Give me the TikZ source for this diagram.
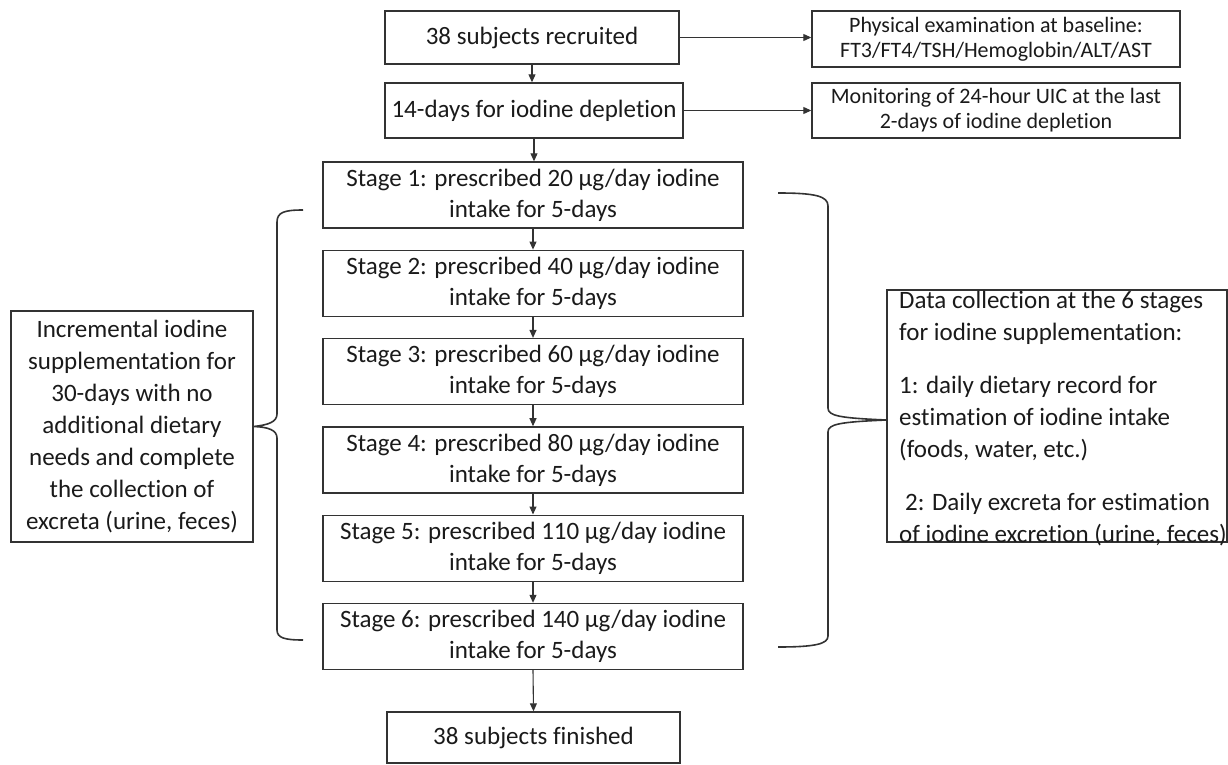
\documentclass[tikz,border=0pt]{standalone}
\usepackage{fontspec}
\setmainfont{Carlito}[RawFeature={-liga;-clig;-calt;-dlig}]
\usetikzlibrary{arrows.meta}
\definecolor{ln}{HTML}{333333}
\definecolor{tx}{HTML}{1A1A1A}
\tikzset{
  box/.style={draw=ln, line width=1.4pt, rectangle, inner sep=0pt, align=center, text=tx,
    font=\fontsize{25pt}{31pt}\selectfont},
  smallbox/.style={box, font=\fontsize{22pt}{25pt}\selectfont},
  conn/.style={draw=ln, line width=1.1pt, -{Triangle[length=8pt,width=7pt]}},
  brace/.style={draw=ln, line width=1.6pt}
}
\begin{document}
\begin{tikzpicture}[x=1pt,y=-1pt]
\useasboundingbox (0,0) rectangle (1228,765);
% main column
\node[box, minimum width=294pt, minimum height=53pt] (rec) at (532,37.5) {38 subjects recruited};
\node[box, minimum width=298pt, minimum height=55pt] (dep) at (534,110.5) {14-days for iodine depletion};
\node[smallbox, minimum width=368pt, minimum height=56pt] (phys) at (996,39) {Physical examination at baseline:\\FT3/FT4/TSH/Hemoglobin/ALT/AST};
\node[smallbox, minimum width=368pt, minimum height=55pt] (mon) at (996,110.5) {Monitoring of 24-hour UIC at the last\\2-days of iodine depletion};
\node[box, minimum width=420pt, minimum height=66pt] (s1) at (533,195) {Stage 1: prescribed 20 µg/day iodine\\intake for 5-days};
\node[box, minimum width=420pt, minimum height=66pt] (s2) at (533,283.3) {Stage 2: prescribed 40 µg/day iodine\\intake for 5-days};
\node[box, minimum width=420pt, minimum height=66pt] (s3) at (533,371.6) {Stage 3: prescribed 60 µg/day iodine\\intake for 5-days};
\node[box, minimum width=420pt, minimum height=66pt] (s4) at (533,459.9) {Stage 4: prescribed 80 µg/day iodine\\intake for 5-days};
\node[box, minimum width=420pt, minimum height=66pt] (s5) at (533,548.2) {Stage 5: prescribed 110 µg/day iodine\\intake for 5-days};
\node[box, minimum width=420pt, minimum height=66pt] (s6) at (533,636.5) {Stage 6: prescribed 140 µg/day iodine\\intake for 5-days};
\node[box, minimum width=293pt, minimum height=51pt] (fin) at (533.5,737.5) {38 subjects finished};
% side boxes
\node[box, minimum width=242pt, minimum height=231pt, font=\fontsize{25pt}{32pt}\selectfont] (left) at (132,426.5)
  {Incremental iodine\\supplementation for\\30-days with no\\additional dietary\\needs and complete\\the collection of\\excreta (urine, feces)};
\node[box, minimum width=340pt, minimum height=252pt] (data) at (1057,416) {};
\node[anchor=base west, inner sep=0pt, text=tx] (datatext) at (899,308)
  {\parbox[t]{330pt}{\fontsize{25pt}{32pt}\selectfont\raggedright
   Data collection at the 6 stages\\for iodine supplementation:\\[21pt]
   1: daily dietary record for\\estimation of iodine intake\\(foods, water, etc.)\\[21pt]
   \hspace*{6pt}2: Daily excreta for estimation\\of iodine excretion (urine, feces)}};
% connectors
\draw[conn] (rec.south) -- (rec.south |- dep.north);
\draw[conn] (dep.south) -- (dep.south |- s1.north);
\draw[conn] (s1.south) -- (s2.north);
\draw[conn] (s2.south) -- (s3.north);
\draw[conn] (s3.south) -- (s4.north);
\draw[conn] (s4.south) -- (s5.north);
\draw[conn] (s5.south) -- (s6.north);
\draw[conn] (s6.south) -- (fin.north);
\draw[conn] (rec.east) -- (rec.east -| phys.west);
\draw[conn] (dep.east) -- (dep.east -| mon.west);
% braces
\draw[brace] (303,210) .. controls (285,210) and (277,212) .. (277,222) -- (277,414)
  .. controls (277,422) and (268,425) .. (left.east)
  .. controls (268,427) and (277,430) .. (277,438) -- (277,630)
  .. controls (277,638) and (285,640) .. (303,640);
\draw[brace] (778,193) .. controls (815,193) and (828,196) .. (828,206) -- (828,408)
  .. controls (828,416) and (840,418) .. (data.west |- 0,420)
  .. controls (840,422) and (828,424) .. (828,432) -- (828,636)
  .. controls (828,644) and (815,647) .. (778,647);
\end{tikzpicture}
\end{document}
